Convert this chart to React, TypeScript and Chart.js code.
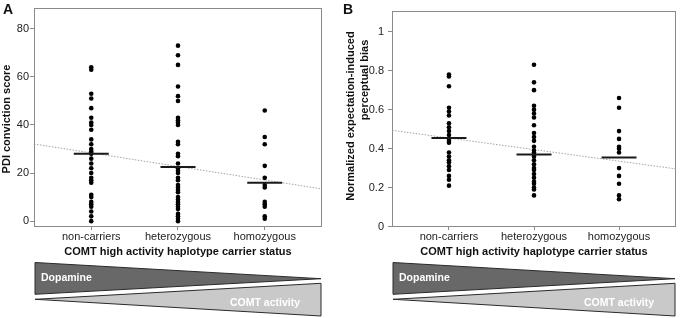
import React, { useEffect, useRef } from 'react';
import { Chart, registerables } from 'chart.js';

Chart.register(...registerables);

const FONT = "'Liberation Sans', Arial, sans-serif";

const categories = ['non-carriers', 'heterozygous', 'homozygous'];

// Panel A: PDI conviction score
const pdiNonCarriers = [64, 63, 53, 51, 47, 43, 41, 40, 38, 34, 32, 30, 29, 28, 26, 24, 22, 20, 18, 17, 16, 11, 10, 8, 7, 6, 4, 2, 0];
const pdiHeterozygous = [73, 69, 65, 56, 52, 50, 43, 42, 41, 40, 33, 32, 28, 27, 24, 22, 21, 20, 18, 17, 15, 14, 13, 12, 10, 9, 8, 7, 6, 5, 3, 2, 1, 0];
const pdiHomozygous = [46, 35, 32, 23, 18, 15, 14, 8, 7, 6, 2, 1];
const pdiMedians = [28, 22.5, 16];
const pdiTrendX = [0.34, 3.66];
const pdiTrendY = [32.1, 13.4];
const pdiTicks = [0, 20, 40, 60, 80];

// Panel B: normalized expectation-induced perceptual bias
const biasNonCarriers = [0.78, 0.77, 0.72, 0.61, 0.59, 0.57, 0.53, 0.51, 0.49, 0.47, 0.45, 0.44, 0.43, 0.38, 0.36, 0.34, 0.33, 0.31, 0.29, 0.26, 0.24, 0.21];
const biasHeterozygous = [0.83, 0.74, 0.70, 0.62, 0.60, 0.58, 0.56, 0.52, 0.48, 0.46, 0.44, 0.41, 0.39, 0.38, 0.36, 0.34, 0.32, 0.30, 0.29, 0.27, 0.25, 0.23, 0.22, 0.20, 0.19, 0.16];
const biasHomozygous = [0.66, 0.61, 0.49, 0.45, 0.41, 0.40, 0.38, 0.30, 0.26, 0.22, 0.16, 0.14];
const biasMedians = [0.455, 0.37, 0.355];
const biasTrendX = [0.33, 3.67];
const biasTrendY = [0.494, 0.296];
const biasTicks = [0, 0.2, 0.4, 0.6, 0.8, 1];

const xTitle = 'COMT high activity haplotype carrier status';
const pdiTitle = 'PDI conviction score';
const biasTitleLines = ['Normalized expectation-induced', 'perceptual bias'];
const dopamineLabel = 'Dopamine';
const comtLabel = 'COMT activity';

type TitleLine = { text: string; x: number; y: number };

type PanelCfg = {
  letter: string;
  groups: number[][];
  medians: number[];
  trendX: number[];
  trendY: number[];
  yTicks: number[];
  yMin: number;
  yMax: number;
  xMin: number;
  xMax: number;
  yTitle: TitleLine[];
  yWidth: number;
  yTickPad: number;
  padRight: number;
};

function makeDecor(cfg: PanelCfg) {
  return {
    id: 'decor' + cfg.letter,
    afterDatasetsDraw(chart: any) {
      const { ctx, chartArea } = chart;
      const xs = chart.scales.x;
      const ys = chart.scales.y;
      ctx.save();
      // frame
      ctx.strokeStyle = '#8a8a8a';
      ctx.lineWidth = 1;
      ctx.strokeRect(
        Math.round(chartArea.left) + 0.5,
        Math.round(chartArea.top) + 0.5,
        Math.round(chartArea.right - chartArea.left) - 1,
        Math.round(chartArea.bottom - chartArea.top) - 1
      );
      // medians
      ctx.strokeStyle = '#1a1a1a';
      ctx.lineWidth = 2;
      cfg.medians.forEach((m, i) => {
        const cx = xs.getPixelForValue(i + 1);
        const y = ys.getPixelForValue(m);
        ctx.beginPath();
        ctx.moveTo(cx - 17.5, y);
        ctx.lineTo(cx + 17.5, y);
        ctx.stroke();
      });
      // y title (rotated)
      ctx.fillStyle = '#111';
      ctx.font = `bold 11px ${FONT}`;
      ctx.textAlign = 'center';
      ctx.textBaseline = 'middle';
      cfg.yTitle.forEach((t) => {
        ctx.save();
        ctx.translate(t.x, t.y);
        ctx.rotate(-Math.PI / 2);
        ctx.fillText(t.text, 0, 0);
        ctx.restore();
      });
      // panel letter
      ctx.fillStyle = '#111';
      ctx.font = `bold 14px ${FONT}`;
      ctx.textAlign = 'left';
      ctx.textBaseline = 'alphabetic';
      ctx.fillText(cfg.letter, 3, 14);
      // triangles
      const L = chartArea.left + 1;
      const R = chartArea.right - 1;
      ctx.lineWidth = 1;
      ctx.strokeStyle = '#2a2a2a';
      ctx.fillStyle = '#686868';
      ctx.beginPath();
      ctx.moveTo(L, 262.5);
      ctx.lineTo(R, 278.7);
      ctx.lineTo(L, 294.3);
      ctx.closePath();
      ctx.fill();
      ctx.stroke();
      ctx.fillStyle = '#c9c9c9';
      ctx.beginPath();
      ctx.moveTo(L, 299.3);
      ctx.lineTo(R, 283.3);
      ctx.lineTo(R, 316);
      ctx.closePath();
      ctx.fill();
      ctx.stroke();
      ctx.fillStyle = '#ffffff';
      ctx.font = `bold 10.5px ${FONT}`;
      ctx.textBaseline = 'middle';
      ctx.textAlign = 'left';
      ctx.fillText(dopamineLabel, L + 6, 278);
      ctx.textAlign = 'right';
      ctx.fillText(comtLabel, R - 21, 303);
      ctx.restore();
    },
  };
}

function Panel({ cfg }: { cfg: PanelCfg }) {
  const ref = useRef<HTMLCanvasElement | null>(null);
  useEffect(() => {
    if (!ref.current) return;
    const points: { x: number; y: number }[] = [];
    cfg.groups.forEach((g, i) => g.forEach((v) => points.push({ x: i + 1, y: v })));
    const trend = cfg.trendX.map((x, i) => ({ x, y: cfg.trendY[i] }));
    const chart = new Chart(ref.current, {
      type: 'scatter',
      data: {
        datasets: [
          {
            data: trend,
            showLine: true,
            borderColor: '#a4a4a4',
            borderWidth: 1,
            borderDash: [1.5, 1.5],
            pointRadius: 0,
            order: 2,
          } as any,
          {
            data: points,
            backgroundColor: '#000',
            borderColor: '#000',
            pointRadius: 2.3,
            borderWidth: 0,
            order: 1,
          },
        ],
      },
      options: {
        responsive: false,
        animation: false,
        events: [],
        layout: { padding: { left: 0, top: 3, right: cfg.padRight, bottom: 59 } },
        plugins: { legend: { display: false }, tooltip: { enabled: false } },
        scales: {
          x: {
            type: 'linear',
            min: cfg.xMin,
            max: cfg.xMax,
            afterBuildTicks: (s: any) => {
              s.ticks = categories.map((_, i) => ({ value: i + 1 }));
            },
            afterFit: (s: any) => {
              s.height = 32;
            },
            border: { display: false },
            grid: { drawOnChartArea: false, drawTicks: true, tickLength: 3, tickColor: '#8a8a8a' },
            ticks: {
              autoSkip: false,
              maxRotation: 0,
              padding: 0,
              color: '#222',
              font: { family: FONT, size: 11 },
              callback: (v: any) => categories[Math.round(v) - 1],
            },
            title: {
              display: true,
              text: xTitle,
              color: '#111',
              padding: { top: 0, bottom: 0 },
              font: { family: FONT, size: 11, weight: 'bold' },
            },
          },
          y: {
            type: 'linear',
            min: cfg.yMin,
            max: cfg.yMax,
            afterBuildTicks: (s: any) => {
              s.ticks = cfg.yTicks.map((v) => ({ value: v }));
            },
            afterFit: (s: any) => {
              s.width = cfg.yWidth;
            },
            border: { display: false },
            grid: { drawOnChartArea: false, drawTicks: true, tickLength: 4, tickColor: '#8a8a8a' },
            ticks: {
              padding: cfg.yTickPad,
              color: '#222',
              font: { family: FONT, size: 11 },
              callback: (v: any) => String(v),
            },
          },
        },
      },
      plugins: [makeDecor(cfg)],
    } as any);
    return () => chart.destroy();
  }, [cfg]);
  return <canvas ref={ref} width={340} height={318} style={{ width: 340, height: 318, display: 'block' }} />;
}

const panelA: PanelCfg = {
  letter: 'A',
  groups: [pdiNonCarriers, pdiHeterozygous, pdiHomozygous],
  medians: pdiMedians,
  trendX: pdiTrendX,
  trendY: pdiTrendY,
  yTicks: pdiTicks,
  yMin: -2.44,
  yMax: 88.84,
  xMin: 0.34,
  xMax: 3.66,
  yTitle: [{ text: pdiTitle, x: 7, y: 119 }],
  yWidth: 34,
  yTickPad: 1,
  padRight: 18,
};

const panelB: PanelCfg = {
  letter: 'B',
  groups: [biasNonCarriers, biasHeterozygous, biasHomozygous],
  medians: biasMedians,
  trendX: biasTrendX,
  trendY: biasTrendY,
  yTicks: biasTicks,
  yMin: -0.002,
  yMax: 1.108,
  xMin: 0.33,
  xMax: 3.67,
  yTitle: [
    { text: biasTitleLines[0], x: 11, y: 116 },
    { text: biasTitleLines[1], x: 25, y: 80 },
  ],
  yWidth: 52,
  yTickPad: 4,
  padRight: 4,
};

export default function App() {
  return (
    <div style={{ position: 'absolute', left: 0, top: 0, width: 680, height: 318, background: '#fff', display: 'flex' }}>
      <Panel cfg={panelA} />
      <Panel cfg={panelB} />
    </div>
  );
}
